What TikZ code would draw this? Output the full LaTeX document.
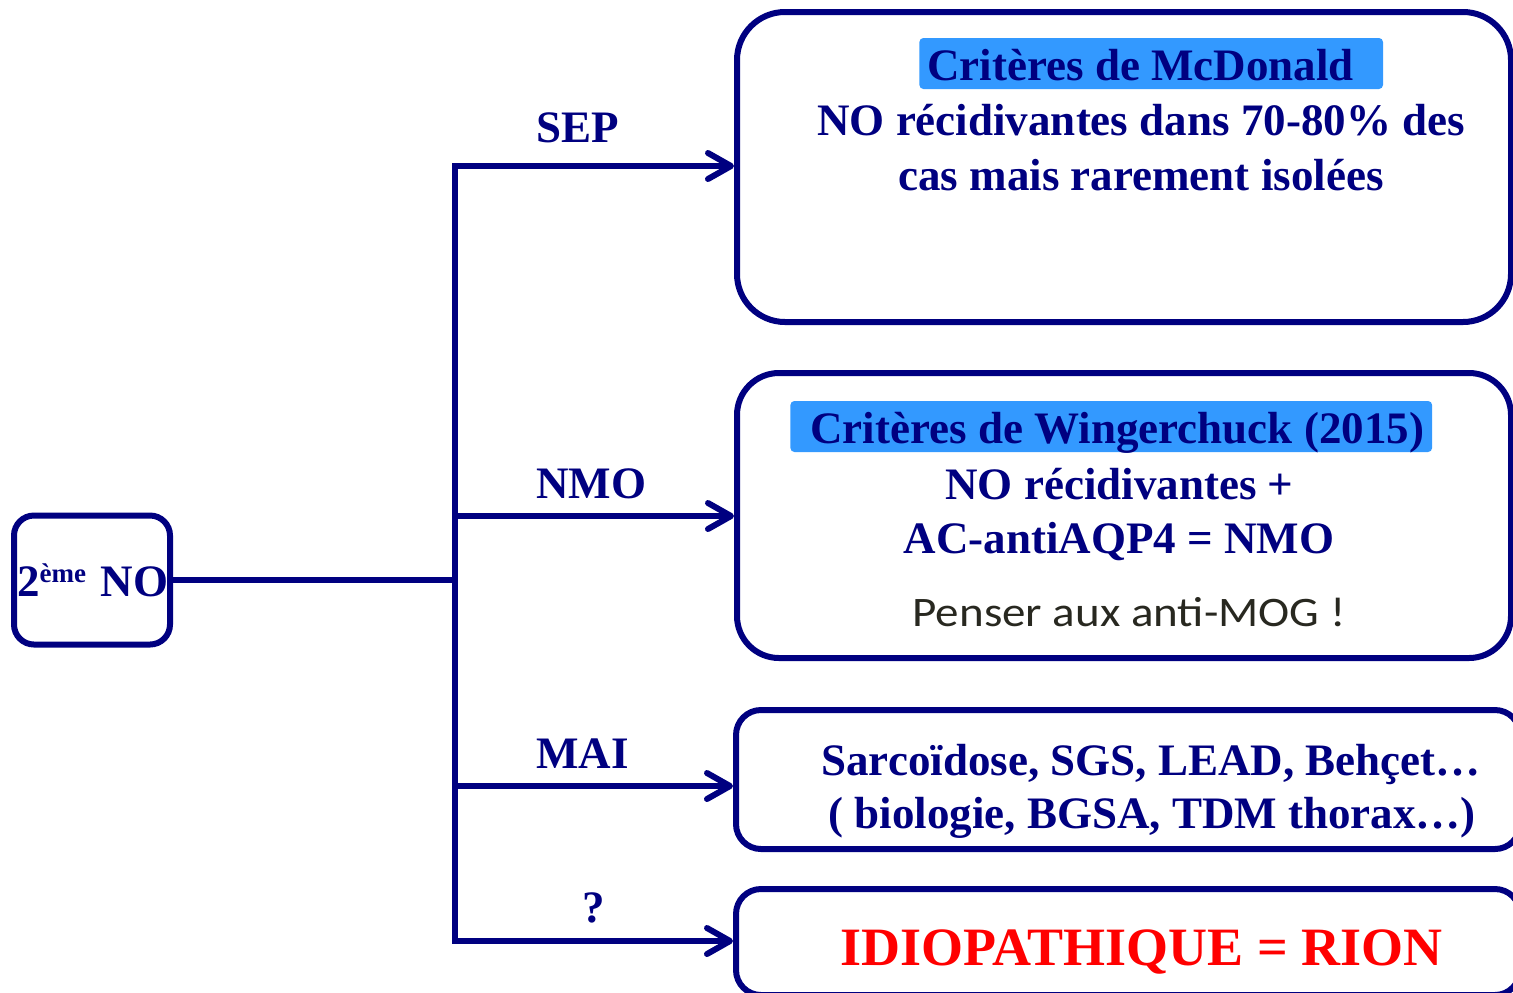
\documentclass[tikz,border=0pt]{standalone}
\usepackage{fontspec}
\setmainfont{Liberation Serif}
\newfontfamily\calib[FakeStretch=1.12]{Carlito}
\usetikzlibrary{arrows.meta}
\definecolor{navy}{HTML}{000080}
\definecolor{hlblue}{HTML}{3399FF}
\definecolor{inkgrey}{RGB}{40,40,32}
\newcommand{\expo}[1]{\raisebox{7pt}{\fontsize{13.5}{13.5}\selectfont #1}}
\begin{document}
\begin{tikzpicture}[x=0.5pt,y=-0.5pt,
    txt/.style={navy, font=\bfseries\fontsize{22.5}{27.5}\selectfont, inner sep=0pt, anchor=base},
    lbl/.style={txt, anchor=base west},
    hl/.style={txt, anchor=base west, fill=hlblue, rounded corners=2pt, inner xsep=4pt, text height=21pt, text depth=4.5pt},
    bigbox/.style={draw=navy, line width=3pt, inner sep=0pt},
    branch/.style={navy, line width=3pt, -{Straight Barb[length=11.5pt,width=13pt,round]}}]
        \useasboundingbox (0,0) rectangle (1513,992);
        \clip (0,0) rectangle (1513,992);
        % start box and the boxes on the right
        \node[bigbox, txt, anchor=center, rounded corners=10pt, minimum width=78pt, minimum height=64.5pt, text width=76.5pt, align=right] (no2) at (92,580) {2\expo{ème} NO};
        \node[bigbox, rounded corners=24pt, minimum width=387pt, minimum height=155pt] (b1) at (1124,167) {};
        \node[bigbox, rounded corners=21pt, minimum width=387pt, minimum height=142.5pt] (b2) at (1124,515.5) {};
        \node[bigbox, rounded corners=12.5pt, minimum width=392pt, minimum height=69.5pt] (b3) at (1128,779.5) {};
        \node[bigbox, rounded corners=12.5pt, minimum width=392pt, minimum height=53pt] (b4) at (1128,942) {};

        % texts in the boxes
        \node[hl] (t1a) at (919,80) {Critères de McDonald\kern10.5pt};
        \node[txt] (t1b) at (1141,135) {NO récidivantes dans 70-80\% des};
        \node[txt] (t1c) at (1141,190) {cas mais rarement isolées};
        \node[hl, inner xsep=3pt] (t2a) at (790,443) {\kern7pt Critères de Wingerchuck (2015)\kern1pt};
        \node[txt] (t2b) at (1119.5,499) {NO récidivantes +};
        \node[txt] (t2c) at (1119,553) {AC-antiAQP4 = NMO};
        \node[inner sep=0pt, anchor=base, inkgrey, font=\calib\fontsize{21}{25}\selectfont] (t2d) at (1129,626) {Penser aux anti-MOG !};
        \node[txt] (t3a) at (1151,775) {Sarcoïdose, SGS, LEAD, Behçet…};
        \node[txt] (t3b) at (1152,828) {( biologie, BGSA, TDM thorax…)};
        \node[txt, red, font=\bfseries\fontsize{27}{32}\selectfont] (t4) at (1141.5,965) {IDIOPATHIQUE = RION};

        % branch labels
        \node[lbl] (sep) at (536,142) {SEP};
        \node[lbl] (nmo) at (536,498) {NMO};
        \node[lbl] (mai) at (536,768) {MAI};
        \node[txt] (unk) at (594,922) {?};

        % tree
        \coordinate (j) at (455,580);
        \coordinate (jsep) at (455,166);
        \coordinate (jnmo) at (455,516);
        \coordinate (jmai) at (455,786);
        \coordinate (junk) at (455,941);
        \draw[navy, line width=3pt] (no2.east) -- (j);
        \draw[navy, line width=3pt, line cap=rect] (jsep) -- (junk);
        \draw[branch] (jsep) -- (b1.west |- jsep);
        \draw[branch] (jnmo) -- (b2.west |- jnmo);
        \draw[branch] (jmai) -- (b3.west |- jmai);
        \draw[branch] (junk) -- (b4.west |- junk);
\end{tikzpicture}
\end{document}
